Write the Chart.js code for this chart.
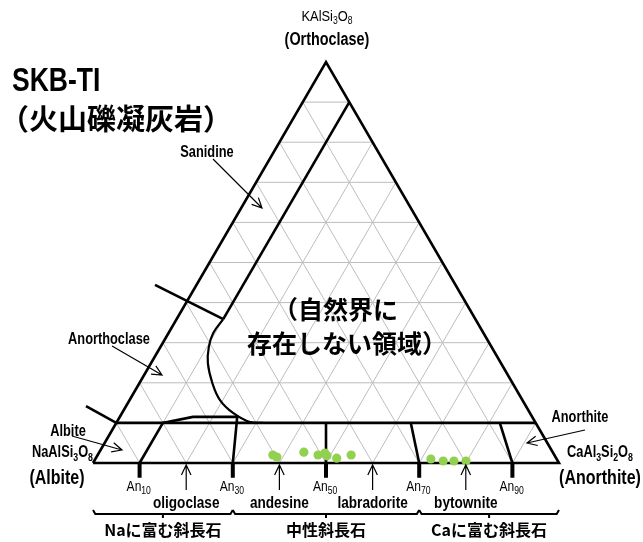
<!DOCTYPE html>
<html>
<head>
<meta charset="utf-8">
<script src="https://cdn.jsdelivr.net/npm/chart.js@4.4.0/dist/chart.umd.min.js"></script>
<style>
  body { margin: 0; background: #fff; }
  canvas { display: block; }
</style>
</head>
<body>
<canvas id="tern" width="643" height="542" style="width:643px;height:542px"></canvas>
<script>
// plagioclase analyses, mol% (An, Or)
var sampleAn = [37.6, 38.7, 43.9, 47.3, 48.5, 49.3, 51.7, 54.4, 72.0, 74.9, 77.2, 79.8];
var sampleOr = [2.0, 1.5, 2.7, 2.0, 2.5, 1.8, 1.2, 2.0, 1.0, 0.5, 0.5, 0.5];

var anTicks = [10, 30, 50, 70, 90];
var mineralNames = ['oligoclase', 'andesine', 'labradorite', 'bytownite'];
var mineralAn = [20, 40, 60, 80];
var groupNames = ['Naに富む斜長石', '中性斜長石', 'Caに富む斜長石'];
var groupFrom = [0, 30, 70];
var groupTo = [30, 70, 100];
var groupMid = [15, 50, 85];

// field boundaries as [An, Or] in mol%
var an10Line = [[10, 90], [10, 35.9]];
var solvus = [[10, 35.9], [9.6, 32.4], [10.4, 28.9], [12.2, 24.9], [15.6, 20], [19.4, 15.7], [23.8, 12.5], [28.6, 10.2], [31.5, 10]];
var sanidineTick = [[-8.9, 44.4], [10, 35.9]];
var albiteTick = [[-8.6, 14.2], [0, 10]];
var or10Line = [[0, 10], [90, 10]];
var oligoLeft = [[10, 0], [10, 10], [15.7, 11.5], [25.2, 11.5], [30, 0]];
var an50Line = [[50, 0], [45, 10]];
var an70Line = [[70, 0], [63.2, 10]];
var an90Line = [[90, 0], [82.3, 10]];
var outline = [[0, 0], [100, 0], [0, 100], [0, 0]];

// pixel placement of the triangle
var plotLeft = 93, plotBase = 463, baseWidth = 466, plotHeight = 401;
var W = 643, H = 542;

function cart(an, or) { return { x: an / 100 + or / 200, y: or / 100 }; }

function lineSet(pts, color, width, order, tension) {
  return {
    data: pts.map(function (p) { return cart(p[0], p[1]); }),
    showLine: true, borderColor: color, borderWidth: width,
    pointRadius: 0, tension: tension || 0, fill: false, order: order, clip: false
  };
}
function xySet(pts, color, width, order) {
  return {
    data: pts, showLine: true, borderColor: color, borderWidth: width,
    pointRadius: 0, fill: false, order: order, clip: false,
    borderJoinStyle: 'miter', borderCapStyle: 'butt'
  };
}

var datasets = [];
datasets.push({
  data: sampleAn.map(function (a, i) { return cart(a, sampleOr[i]); }),
  pointRadius: 4.6, backgroundColor: '#92d050', borderWidth: 0, order: 0, clip: false
});

// 10% grid
for (var k = 10; k < 100; k += 10) {
  datasets.push(lineSet([[0, k], [100 - k, k]], '#bdbdbd', 1, 20));
  datasets.push(lineSet([[k, 0], [k, 100 - k]], '#bdbdbd', 1, 20));
  datasets.push(lineSet([[100 - k, 0], [0, 100 - k]], '#bdbdbd', 1, 20));
}

[outline, an10Line, sanidineTick, albiteTick, or10Line, oligoLeft, an50Line, an70Line, an90Line].forEach(function (l) {
  datasets.push(lineSet(l, '#000', 2.6, 5));
});
datasets.push(lineSet(solvus, '#000', 2.2, 5, 0.4));

anTicks.forEach(function (v) {
  datasets.push(xySet([{ x: v / 100, y: 0 }, { x: v / 100, y: -0.037 }], '#000', 4, 4));
});

for (var g = 0; g < groupNames.length; g++) {
  var a = groupFrom[g] / 100, b = groupTo[g] / 100, m = groupMid[g] / 100;
  datasets.push(xySet([
    { x: a, y: -0.117 }, { x: a + 0.005, y: -0.127 }, { x: m, y: -0.127 }, { x: m, y: -0.137 },
    { x: m, y: -0.127 }, { x: b - 0.005, y: -0.127 }, { x: b, y: -0.117 }
  ], '#000', 2, 4));
}

var LAT = '"Liberation Sans", Arial, sans-serif';
var JP = '"Noto Sans CJK JP", sans-serif';

function txt(ctx, s, x, y, size, opt) {
  opt = opt || {};
  ctx.save();
  ctx.font = (opt.bold ? 'bold ' : '') + size + 'px ' + (opt.jp ? JP : LAT);
  ctx.textBaseline = 'middle';
  ctx.textAlign = 'left';
  var sx = opt.sx || 1;
  var w = ctx.measureText(s).width * sx;
  var x0 = opt.align === 'center' ? x - w / 2 : (opt.align === 'right' ? x - w : x);
  ctx.translate(x0, y);
  ctx.scale(sx, 1);
  ctx.fillStyle = '#000';
  ctx.fillText(s, 0, 0);
  ctx.restore();
  return w;
}

// parts alternate normal / subscript
function formula(ctx, parts, x, y, size, opt) {
  opt = opt || {};
  var sx = opt.sx || 1, subSize = Math.round(size * 0.68);
  ctx.save();
  var total = 0;
  parts.forEach(function (p, i) {
    ctx.font = (opt.bold ? 'bold ' : '') + (i % 2 ? subSize : size) + 'px ' + LAT;
    total += ctx.measureText(p).width * sx;
  });
  ctx.restore();
  var cx = opt.align === 'center' ? x - total / 2 : (opt.align === 'right' ? x - total : x);
  parts.forEach(function (p, i) {
    cx += txt(ctx, p, cx, i % 2 ? y + size * 0.3 : y, i % 2 ? subSize : size, { sx: sx, bold: opt.bold });
  });
}

function arrow(ctx, x1, y1, x2, y2) {
  var ang = Math.atan2(y2 - y1, x2 - x1), L = 11, s = 0.45;
  ctx.save();
  ctx.strokeStyle = '#000';
  ctx.lineWidth = 1.2;
  ctx.beginPath();
  ctx.moveTo(x1, y1); ctx.lineTo(x2, y2);
  ctx.moveTo(x2 - L * Math.cos(ang - s), y2 - L * Math.sin(ang - s));
  ctx.lineTo(x2, y2);
  ctx.lineTo(x2 - L * Math.cos(ang + s), y2 - L * Math.sin(ang + s));
  ctx.stroke();
  ctx.restore();
}

var labelPlugin = {
  id: 'labels',
  afterDraw: function (chart) {
    var ctx = chart.ctx, xs = chart.scales.x, ys = chart.scales.y;
    var base = ys.getPixelForValue(0);
    var SX = 0.8;

    txt(ctx, 'SKB-TI', 12, 82, 34, { bold: true, sx: 0.78 });
    txt(ctx, '（火山礫凝灰岩）', 0, 119, 29, { bold: true, jp: true });

    formula(ctx, ['KAlSi', '3', 'O', '8'], 327, 17, 15, { align: 'center', sx: 0.86 });
    txt(ctx, '(Orthoclase)', 327, 40, 18, { align: 'center', bold: true, sx: SX });
    formula(ctx, ['NaAlSi', '3', 'O', '8'], 93, 453, 16, { align: 'right', bold: true, sx: SX });
    txt(ctx, '(Albite)', 57, 478, 20, { align: 'center', bold: true, sx: SX });
    formula(ctx, ['CaAl', '3', 'Si', '2', 'O', '8'], 600, 453, 16, { align: 'center', bold: true, sx: SX });
    txt(ctx, '(Anorthite)', 600, 478, 20, { align: 'center', bold: true, sx: SX });

    txt(ctx, 'Sanidine', 207, 153, 16, { align: 'center', bold: true, sx: SX });
    arrow(ctx, 213, 159, 262, 208);
    txt(ctx, 'Anorthoclase', 109, 340, 16, { align: 'center', bold: true, sx: SX });
    arrow(ctx, 112, 346, 162, 375);
    txt(ctx, 'Albite', 68, 432, 16, { align: 'center', bold: true, sx: SX });
    arrow(ctx, 72, 436, 122, 450);
    txt(ctx, 'Anorthite', 580, 418, 16, { align: 'center', bold: true, sx: SX });
    arrow(ctx, 585, 430, 527, 443);

    txt(ctx, '（自然界に', 273, 309, 25, { bold: true, jp: true });
    txt(ctx, '存在しない領域）', 247, 343, 25, { bold: true, jp: true });

    anTicks.forEach(function (v) {
      var x = xs.getPixelForValue(v / 100);
      formula(ctx, ['An', String(v)], x - 13, base + 24, 14, { sx: 0.86 });
    });
    mineralNames.forEach(function (n, i) {
      var x = xs.getPixelForValue(mineralAn[i] / 100);
      arrow(ctx, x, base + 27, x, base + 2);
      txt(ctx, n, x, base + 40, 17, { align: 'center', bold: true, sx: SX });
    });
    groupNames.forEach(function (n, i) {
      var x = xs.getPixelForValue(groupMid[i] / 100);
      txt(ctx, n, x, base + 67, 16, { align: 'center', bold: true, jp: true });
    });
  }
};

new Chart(document.getElementById('tern'), {
  type: 'scatter',
  data: { datasets: datasets },
  options: {
    responsive: false,
    animation: false,
    events: [],
    layout: { padding: 0, autoPadding: false },
    plugins: { legend: { display: false }, tooltip: { enabled: false } },
    scales: {
      x: { type: 'linear', display: false, min: -plotLeft / baseWidth, max: (W - plotLeft) / baseWidth },
      y: { type: 'linear', display: false, min: -(H - plotBase) / plotHeight, max: plotBase / plotHeight }
    }
  },
  plugins: [labelPlugin]
});
</script>
</body>
</html>
